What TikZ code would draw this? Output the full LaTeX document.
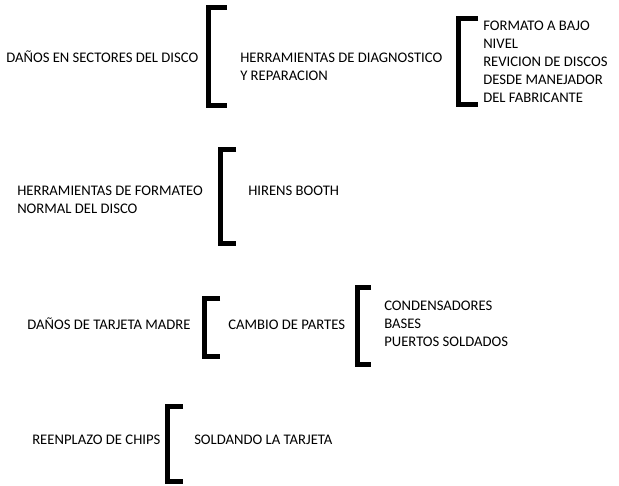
\documentclass[tikz,border=0pt]{standalone}
\usepackage{fontspec}
\setmainfont{Carlito}

\begin{document}
\begin{tikzpicture}[x=0.75pt,y=-0.75pt,
  txt/.style={anchor=base west,inner sep=0pt,align=left,font=\fontsize{11}{13.5}\selectfont},
  llave/.style={line width=3.75pt,line join=miter}]
  \useasboundingbox (0,0) rectangle (619,486);
  % disco (multi-line nodes sit on their last baseline)
  \node[txt] (danosdisco) at (6,62.5) {DAÑOS EN SECTORES DEL DISCO};
  \draw[llave] (227,7.5)--(208.5,7.5)--(208.5,105.5)--(227,105.5);
  \node[txt] (diagnostico) at (240,80.5) {HERRAMIENTAS DE DIAGNOSTICO\\Y REPARACION};
  \draw[llave] (478,18.5)--(458.5,18.5)--(458.5,104.5)--(478,104.5);
  \node[txt] (formato) at (483,102.5) {FORMATO A BAJO\\NIVEL\\REVICION DE DISCOS\\DESDE MANEJADOR\\DEL FABRICANTE};
  % formateo
  \node[txt] (formateo) at (17,213) {HERRAMIENTAS DE FORMATEO\\NORMAL DEL DISCO};
  \draw[llave] (236,149.5)--(220.5,149.5)--(220.5,243.5)--(236,243.5);
  \node[txt] (hirens) at (248,195) {HIRENS BOOTH};
  % tarjeta madre
  \node[txt] (danostarjeta) at (27,329) {DAÑOS DE TARJETA MADRE};
  \draw[llave] (220,298.5)--(204.5,298.5)--(204.5,356.5)--(220,356.5);
  \node[txt] (cambio) at (228,329) {CAMBIO DE PARTES};
  \draw[llave] (371,287.5)--(357.5,287.5)--(357.5,364.5)--(371,364.5);
  \node[txt] (partes) at (384,346) {CONDENSADORES\\BASES\\PUERTOS SOLDADOS};
  % chips
  \node[txt] (chips) at (32,444) {REENPLAZO DE CHIPS};
  \draw[llave] (183,406.5)--(167.5,406.5)--(167.5,481.5)--(183,481.5);
  \node[txt] (soldando) at (194,444) {SOLDANDO LA TARJETA};
\end{tikzpicture}
\end{document}
